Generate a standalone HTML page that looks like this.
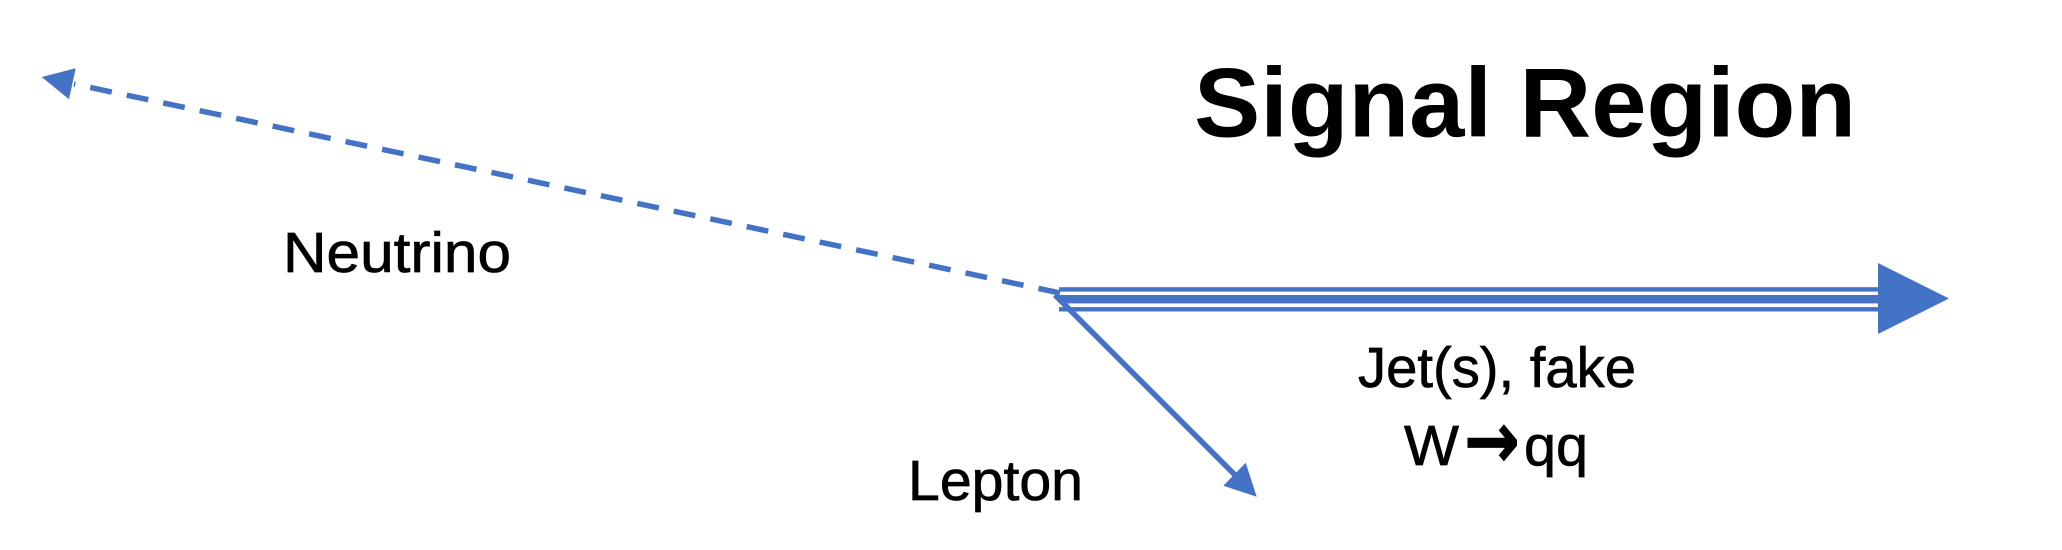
<!DOCTYPE html>
<html lang="en">
<head>
<meta charset="utf-8">
<title>Signal Region</title>
<style>
html,body{margin:0;padding:0;background:#fff;width:2062px;height:550px;overflow:hidden}
svg{display:block}
text{font-family:"Liberation Sans",sans-serif;fill:#000}
.lbl{stroke:#000;stroke-width:.7px}
</style>
</head>
<body>
<svg xmlns="http://www.w3.org/2000/svg" width="2062" height="550" viewBox="0 0 2062 550">
  <rect x="0" y="0" width="2062" height="550" fill="#fff"/>
  <g fill="#4472C4" stroke="#4472C4">
    <line x1="1060" y1="293" x2="74" y2="84" stroke-width="5.5" stroke-dasharray="22 15.28" fill="none"/>
    <polygon points="41.7,77 75.7,68.3 69,99.3" stroke="none"/>
  </g>
  <g fill="#4472C4">
    <rect x="1059" y="287.2" width="820" height="4.4"/>
    <rect x="1059" y="295" width="820" height="8.4"/>
    <rect x="1059" y="307.1" width="820" height="4.4"/>
    <polygon points="1878,263 1949,298.5 1878,334"/>
  </g>
  <g fill="#4472C4">
    <line x1="1055" y1="295" x2="1236" y2="476" stroke="#4472C4" stroke-width="5.5"/>
    <polygon points="1256.7,496.7 1245.7,462.7 1223.3,485.7"/>
  </g>
  <text x="1194" y="136.7" font-size="98" font-weight="700" textLength="662" lengthAdjust="spacingAndGlyphs">Signal Region</text>
  <text class="lbl" x="283" y="272" font-size="57" textLength="228" lengthAdjust="spacingAndGlyphs">Neutrino</text>
  <text class="lbl" x="908" y="500" font-size="57" textLength="175" lengthAdjust="spacingAndGlyphs">Lepton</text>
  <text class="lbl" x="1358" y="387" font-size="57" textLength="278" lengthAdjust="spacingAndGlyphs">Jet(s), fake</text>
  <text class="lbl" y="465" font-size="57"><tspan x="1404" textLength="55" lengthAdjust="spacingAndGlyphs">W</tspan><tspan x="1464" y="468" font-family="'DejaVu Sans',sans-serif" font-weight="700" font-size="80" textLength="56" lengthAdjust="spacingAndGlyphs">→</tspan><tspan x="1524" y="465" textLength="64" lengthAdjust="spacingAndGlyphs">qq</tspan></text>
</svg>
</body>
</html>
